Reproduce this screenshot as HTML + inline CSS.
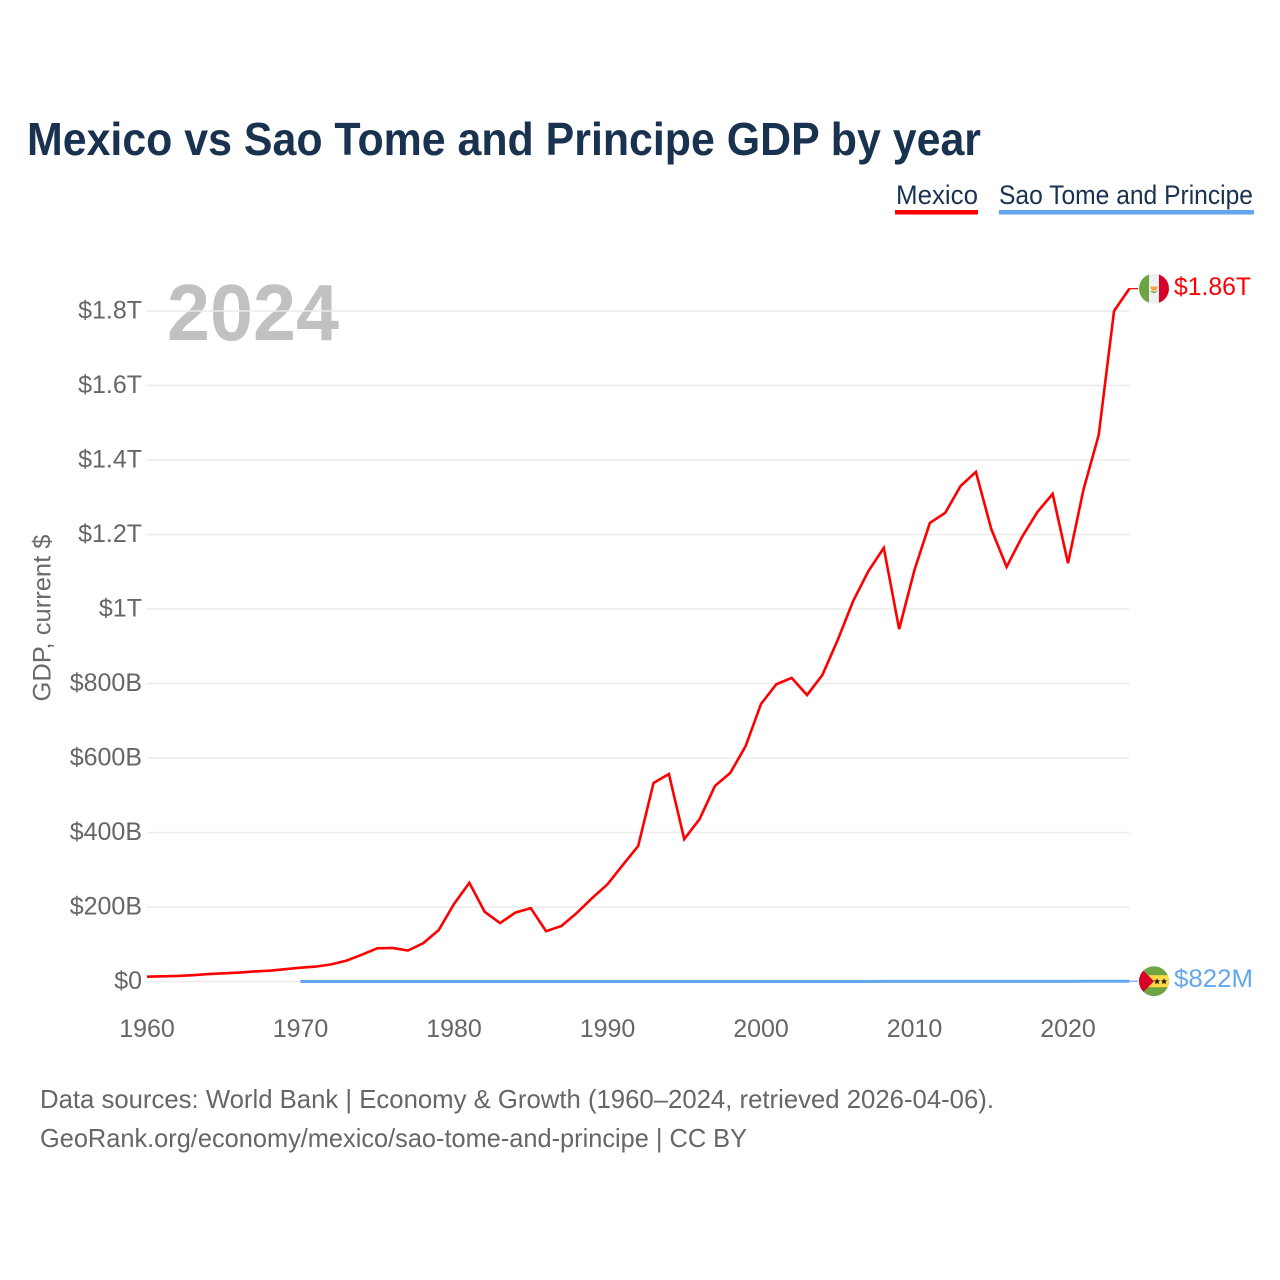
<!DOCTYPE html>
<html lang="en">
<head>
<meta charset="utf-8">
<title>Mexico vs Sao Tome and Principe GDP by year</title>
<style>
html,body{margin:0;padding:0;background:#fff;width:1280px;height:1280px;overflow:hidden}
svg{display:block}
text{font-family:"Liberation Sans",sans-serif}
</style>
</head>
<body>
<svg id="chart" width="1280" height="1280" viewBox="0 0 1280 1280" xmlns="http://www.w3.org/2000/svg">
  <rect width="1280" height="1280" fill="#fff"/>
  <text x="27" y="155" font-size="46" font-weight="700" fill="#18324f" textLength="954" lengthAdjust="spacingAndGlyphs">Mexico vs Sao Tome and Principe GDP by year</text>

  <g>
    <text x="896" y="204" font-size="27" fill="#18324f" textLength="82" lengthAdjust="spacingAndGlyphs">Mexico</text>
    <rect x="895" y="210" width="83" height="4.5" fill="#ff0000"/>
  </g>
  <g>
    <text x="999" y="204" font-size="27" fill="#18324f" textLength="254" lengthAdjust="spacingAndGlyphs">Sao Tome and Principe</text>
    <rect x="999" y="210" width="255" height="4.5" fill="#62a6ee"/>
  </g>

  <text x="167" y="340" font-size="80" font-weight="700" fill="#c1c1c1" textLength="172" lengthAdjust="spacingAndGlyphs">2024</text>

  <g id="grid"></g>
  <g id="yLabels"></g>
  <g id="xLabels"></g>
  <text transform="translate(50.5,618) rotate(-90)" text-anchor="middle" font-size="25" fill="#6a6a6a" textLength="167" lengthAdjust="spacingAndGlyphs">GDP, current $</text>

  <g id="series"></g>

  <defs>
    <clipPath id="flagClip"><circle cx="0" cy="0" r="15"/></clipPath>
  </defs>
  <g id="flagMexico">
    <g clip-path="url(#flagClip)">
      <rect x="-15" y="-15" width="10" height="30" fill="#6da544"/>
      <rect x="-5" y="-15" width="10" height="30" fill="#f0f0f0"/>
      <rect x="5" y="-15" width="10" height="30" fill="#d80027"/>
      <path d="M-4 -2 L4 -2 L2 2 L-2 2 Z" fill="#f5a33a"/>
      <path d="M-4 2 Q0 7 4 2 Q0 4 -4 2 Z" fill="#6da544"/>
    </g>
  </g>
  <g id="flagSao">
    <g clip-path="url(#flagClip)">
      <rect x="-15" y="-15" width="30" height="30" fill="#6da544"/>
      <rect x="-15" y="-6" width="30" height="12" fill="#ffda44"/>
      <path d="M-15 -15 L0 0 L-15 15 Z" fill="#d80027"/>
      <path d="M3 -3 L4 -0.8 L6.3 -0.8 L4.5 0.7 L5.2 3 L3 1.7 L0.8 3 L1.5 0.7 L-0.3 -0.8 L2 -0.8 Z" fill="#222"/>
      <path d="M10 -3 L11 -0.8 L13.3 -0.8 L11.5 0.7 L12.2 3 L10 1.7 L7.8 3 L8.5 0.7 L6.7 -0.8 L9 -0.8 Z" fill="#222"/>
    </g>
  </g>
  <text id="valueMexico" x="1174" font-size="25" fill="#ff0000" textLength="77" lengthAdjust="spacingAndGlyphs"></text>
  <text id="valueSao" x="1174" font-size="25" fill="#62a6ee" textLength="79" lengthAdjust="spacingAndGlyphs"></text>

  <text x="40" y="1108" font-size="26" fill="#666" textLength="954" lengthAdjust="spacingAndGlyphs">Data sources: World Bank | Economy &amp; Growth (1960–2024, retrieved 2026-04-06).</text>
  <text x="40" y="1147" font-size="26" fill="#666" textLength="707" lengthAdjust="spacingAndGlyphs">GeoRank.org/economy/mexico/sao-tome-and-principe | CC BY</text>
</svg>
<script>
const mexicoYears = [1960,1961,1962,1963,1964,1965,1966,1967,1968,1969,1970,1971,1972,1973,1974,1975,1976,1977,1978,1979,1980,1981,1982,1983,1984,1985,1986,1987,1988,1989,1990,1991,1992,1993,1994,1995,1996,1997,1998,1999,2000,2001,2002,2003,2004,2005,2006,2007,2008,2009,2010,2011,2012,2013,2014,2015,2016,2017,2018,2019,2020,2021,2022,2023,2024];
const mexicoValues = [13,14,15,17,20,22,24,27,29,33,37,40,46,56,72,89,90,83,103,138,208,265,187,157,185,197,135,149,184,224,261,313,364,533,557,382,436,525,560,632,745,798,815,769,823,917,1021,1102,1164,946,1105,1231,1258,1330,1368,1215,1113,1193,1260,1309,1123,1319,1467,1800,1860];
const saoYears = [1970,1971,1972,1973,1974,1975,1976,1977,1978,1979,1980,1981,1982,1983,1984,1985,1986,1987,1988,1989,1990,1991,1992,1993,1994,1995,1996,1997,1998,1999,2000,2001,2002,2003,2004,2005,2006,2007,2008,2009,2010,2011,2012,2013,2014,2015,2016,2017,2018,2019,2020,2021,2022,2023,2024];
const saoValues = [0.02,0.02,0.03,0.03,0.04,0.04,0.04,0.05,0.06,0.06,0.05,0.05,0.05,0.05,0.04,0.05,0.05,0.05,0.05,0.05,0.05,0.05,0.05,0.05,0.05,0.05,0.05,0.05,0.05,0.05,0.08,0.08,0.09,0.1,0.11,0.13,0.13,0.14,0.18,0.19,0.2,0.25,0.26,0.31,0.35,0.32,0.34,0.38,0.41,0.43,0.47,0.53,0.54,0.68,0.82];
const yTickValues = [0,200,400,600,800,1000,1200,1400,1600,1800];
const yTickLabels = ["$0","$200B","$400B","$600B","$800B","$1T","$1.2T","$1.4T","$1.6T","$1.8T"];
const xTickYears = [1960,1970,1980,1990,2000,2010,2020];
const xTickLabels = ["1960","1970","1980","1990","2000","2010","2020"];
const mexicoEndLabel = "$1.86T";
const saoEndLabel = "$822M";

const NS = "http://www.w3.org/2000/svg";
const xScale = function (year) { return 147 + (year - 1960) * 15.35; };
const yScale = function (billions) { return 981.5 - billions * 0.3725; };

function svgEl(tag, parent) {
  const el = document.createElementNS(NS, tag);
  parent.appendChild(el);
  return el;
}

const gridGroup = document.getElementById("grid");
const yLabelGroup = document.getElementById("yLabels");
yTickValues.forEach(function (v, i) {
  const line = svgEl("line", gridGroup);
  
  
  line.setAttribute("x1", 147);
  line.setAttribute("x2", 1129.5);
  line.setAttribute("y1", yScale(v));
  line.setAttribute("y2", yScale(v));
  line.setAttribute("stroke", "#ebebeb");
  line.setAttribute("stroke-width", 1.5);
  const label = svgEl("text", yLabelGroup);
  
  
  label.setAttribute("x", 142);
  label.setAttribute("y", yScale(v) + 7.5);
  label.setAttribute("text-anchor", "end");
  label.setAttribute("font-size", 25);
  label.setAttribute("fill", "#666");
  label.textContent = yTickLabels[i];
});

const xLabelGroup = document.getElementById("xLabels");
xTickYears.forEach(function (year, i) {
  const label = svgEl("text", xLabelGroup);
  
  
  label.setAttribute("x", xScale(year));
  label.setAttribute("y", 1037);
  label.setAttribute("text-anchor", "middle");
  label.setAttribute("font-size", 25);
  label.setAttribute("fill", "#666");
  label.textContent = xTickLabels[i];
});

function pathFor(years, values) {
  return years.map(function (year, i) {
    return (i ? "L" : "M") + xScale(year).toFixed(2) + " " + yScale(values[i]).toFixed(2);
  }).join(" ");
}

const seriesGroup = document.getElementById("series");

const mexicoLine = svgEl("path", seriesGroup);


mexicoLine.setAttribute("d", pathFor(mexicoYears, mexicoValues));
mexicoLine.setAttribute("fill", "none");
mexicoLine.setAttribute("stroke", "#ff0000");
mexicoLine.setAttribute("stroke-width", 2.6);
mexicoLine.setAttribute("stroke-linejoin", "miter");

const saoLine = svgEl("path", seriesGroup);


saoLine.setAttribute("d", pathFor(saoYears, saoValues));
saoLine.setAttribute("fill", "none");
saoLine.setAttribute("stroke", "#62a6ee");
saoLine.setAttribute("stroke-width", 3);

const mexicoEndY = yScale(mexicoValues[mexicoValues.length - 1]);
const saoEndY = yScale(saoValues[saoValues.length - 1]);
const endX = xScale(2024);

const mexicoLeader = svgEl("line", seriesGroup);


mexicoLeader.setAttribute("x1", endX);
mexicoLeader.setAttribute("x2", 1138);
mexicoLeader.setAttribute("y1", mexicoEndY);
mexicoLeader.setAttribute("y2", mexicoEndY);
mexicoLeader.setAttribute("stroke", "#ff0000");
mexicoLeader.setAttribute("stroke-width", 1.2);

const saoLeader = svgEl("line", seriesGroup);


saoLeader.setAttribute("x1", endX);
saoLeader.setAttribute("x2", 1138);
saoLeader.setAttribute("y1", saoEndY);
saoLeader.setAttribute("y2", saoEndY);
saoLeader.setAttribute("stroke", "#62a6ee");
saoLeader.setAttribute("stroke-width", 1.2);

document.getElementById("flagMexico").setAttribute("transform", "translate(1154," + mexicoEndY + ")");
document.getElementById("flagSao").setAttribute("transform", "translate(1154," + saoEndY + ")");

const mexicoValueText = document.getElementById("valueMexico");
mexicoValueText.setAttribute("y", mexicoEndY + 6.5);
mexicoValueText.textContent = mexicoEndLabel;

const saoValueText = document.getElementById("valueSao");
saoValueText.setAttribute("y", saoEndY + 6);
saoValueText.textContent = saoEndLabel;
</script>
</body>
</html>
